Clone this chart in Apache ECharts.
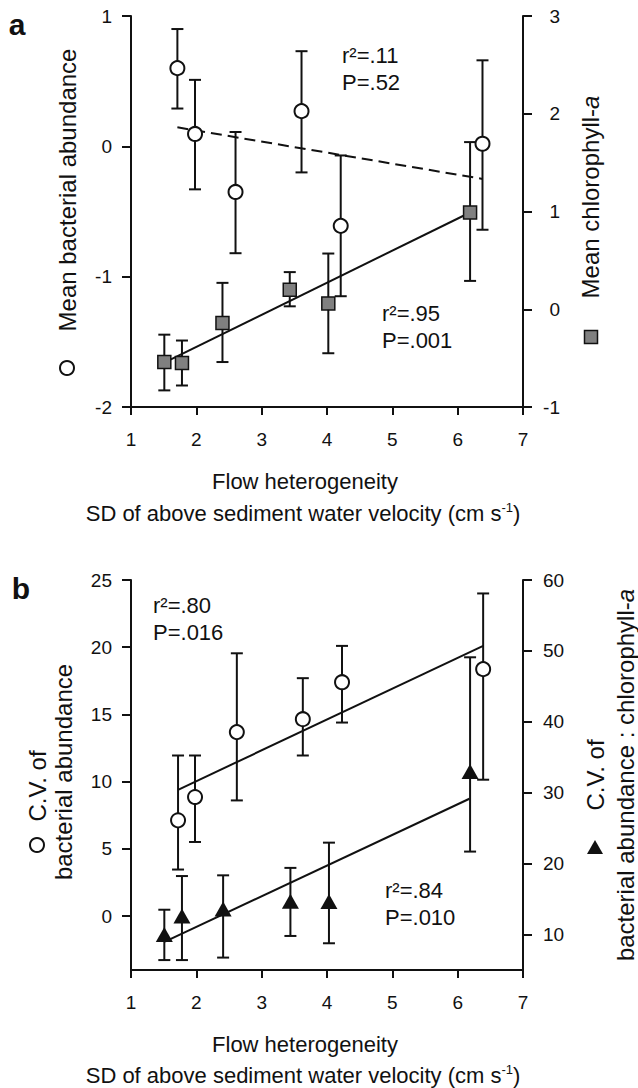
<!DOCTYPE html>
<html>
<head>
<meta charset="utf-8">
<script src="https://cdn.jsdelivr.net/npm/echarts@6/dist/echarts.min.js"></script>
<style>
  html, body { margin: 0; padding: 0; background: #fff; }
  #chart { width: 638px; height: 1088px; }
</style>
</head>
<body>
<div id="chart"></div>
<script>
// panel a - mean bacterial abundance (circles, left axis)
var flowBact = [1.71, 1.98, 2.60, 3.61, 4.21, 6.38]
var bactMean = [0.60, 0.095, -0.35, 0.27, -0.61, 0.02]
var bactLo = [0.29, -0.33, -0.82, -0.20, -1.15, -0.64]
var bactHi = [0.90, 0.51, 0.11, 0.73, -0.07, 0.66]
var bactFit = [[1.71, 0.146], [6.38, -0.25]]

// panel a - mean chlorophyll-a (squares, right axis)
var flowChl = [1.51, 1.78, 2.40, 3.43, 4.02, 6.19]
var chlMean = [-0.54, -0.55, -0.14, 0.20, 0.06, 0.99]
var chlLo = [-0.83, -0.78, -0.54, 0.03, -0.45, 0.29]
var chlHi = [-0.26, -0.32, 0.27, 0.38, 0.57, 1.71]
var chlFit = [[1.51, -0.545], [6.19, 0.99]]

// panel b - C.V. of bacterial abundance (circles, left axis)
var flowCvB = [1.72, 1.98, 2.62, 3.63, 4.23, 6.39]
var cvBact = [7.13, 8.86, 13.69, 14.65, 17.4, 18.37]
var cvBactLo = [3.47, 5.52, 8.61, 11.95, 14.4, 10.15]
var cvBactHi = [11.95, 11.95, 19.55, 17.7, 20.1, 24.0]
var cvBactFit = [[1.72, 9.4], [6.39, 20.1]]

// panel b - C.V. of bacterial abundance : chlorophyll-a (triangles, right axis)
var flowCvR = [1.51, 1.78, 2.41, 3.44, 4.03, 6.19]
var cvRatio = [10.0, 12.6, 13.6, 14.7, 14.65, 33.0]
var cvRatioLo = [6.4, 6.4, 6.75, 9.8, 8.77, 21.7]
var cvRatioHi = [13.5, 18.25, 18.35, 19.4, 22.96, 49.1]
var cvRatioFit = [[1.52, 9.0], [6.18, 29.15]]

// tick labels
var xTicks = [1, 2, 3, 4, 5, 6, 7]
var aLeftTicks = [-2, -1, 0, 1]
var aRightTicks = [-1, 0, 1, 2, 3]
var bLeftTicks = [0, 5, 10, 15, 20, 25]
var bRightTicks = [10, 20, 30, 40, 50, 60]

var FONT = '"Liberation Sans", Arial, "DejaVu Sans", sans-serif'
var INK = '#111'

function pairs(xs, ys) {
    return xs.map(function (x, i) { return [x, ys[i]] })
}
function bars(xs, lo, hi) {
    return xs.map(function (x, i) { return [x, lo[i], hi[i]] })
}

function errorBars(xi, yi, data) {
    return {
        type: 'custom',
        xAxisIndex: xi,
        yAxisIndex: yi,
        z: 2,
        data: data,
        encode: { x: 0, y: [1, 2] },
        renderItem: function (params, api) {
            var top = api.coord([api.value(0), api.value(2)])
            var bot = api.coord([api.value(0), api.value(1)])
            var w = 6
            var st = { stroke: INK, lineWidth: 2 }
            return {
                type: 'group',
                children: [
                    { type: 'line', shape: { x1: top[0], y1: top[1], x2: bot[0], y2: bot[1] }, style: st },
                    { type: 'line', shape: { x1: top[0] - w, y1: top[1], x2: top[0] + w, y2: top[1] }, style: st },
                    { type: 'line', shape: { x1: bot[0] - w, y1: bot[1], x2: bot[0] + w, y2: bot[1] }, style: st }
                ]
            }
        }
    }
}

function fitLine(xi, yi, data, dashed) {
    return {
        type: 'line',
        xAxisIndex: xi,
        yAxisIndex: yi,
        data: data,
        z: 3,
        symbol: 'none',
        silent: true,
        lineStyle: { color: INK, width: 2, type: dashed ? [11, 6] : 'solid' }
    }
}

function xAxisFor(gi) {
    return {
        type: 'value',
        gridIndex: gi,
        min: 1,
        max: 7,
        interval: 1,
        axisLine: { onZero: false, lineStyle: { color: INK, width: 2 } },
        axisTick: { length: 8, lineStyle: { color: INK, width: 2 }, customValues: xTicks },
        axisLabel: { customValues: xTicks, margin: 23, color: INK, fontSize: 19, fontFamily: FONT },
        splitLine: { show: false }
    }
}

function yAxisFor(gi, pos, min, max, ticks, labelOpts) {
    return {
        type: 'value',
        gridIndex: gi,
        position: pos,
        min: min,
        max: max,
        axisLine: { show: true, onZero: false, lineStyle: { color: INK, width: 2 } },
        axisTick: { show: true, length: 9, lineStyle: { color: INK, width: 2 }, customValues: ticks },
        axisLabel: Object.assign({ customValues: ticks, color: INK, fontSize: 19, fontFamily: FONT }, labelOpts),
        splitLine: { show: false }
    }
}

function txt(x, y, text, size, extra) {
    return {
        type: 'text',
        x: x,
        y: y,
        style: Object.assign({
            text: text,
            fill: INK,
            fontSize: size,
            fontFamily: FONT,
            align: 'center',
            verticalAlign: 'middle'
        }, extra || {})
    }
}

function vtxt(x, y, text, rich) {
    var el = txt(x, y, text, 24, rich ? { rich: rich } : null)
    el.rotation = Math.PI / 2
    return el
}

var italicA = { it: { fontStyle: 'italic', fontSize: 24, fontFamily: FONT, fill: INK } }
var supRich = {
    sup: { fontSize: 13, fontFamily: FONT, fill: INK, verticalAlign: 'top', lineHeight: 24 },
    n: { fontSize: 22, fontFamily: FONT, fill: INK, lineHeight: 24 }
}
var sdTitle = '{n|SD of above sediment water velocity (cm s}{sup|-1}{n|)}'

var chart = echarts.init(document.getElementById('chart'), null, { renderer: 'svg' })

chart.setOption({
    animation: false,
    backgroundColor: '#fff',
    grid: [
        { left: 131, top: 16, width: 392, height: 391 },
        { left: 131, top: 580, width: 392, height: 390 }
    ],
    xAxis: [xAxisFor(0), xAxisFor(1)],
    yAxis: [
        yAxisFor(0, 'left', -2, 1, aLeftTicks, { margin: 19 }),
        yAxisFor(0, 'right', -1, 3, aRightTicks, { margin: 37, align: 'right' }),
        yAxisFor(1, 'left', -4, 25, bLeftTicks, { margin: 19 }),
        yAxisFor(1, 'right', 5, 60, bRightTicks, { margin: 20 })
    ],
    series: [
        // panel a
        errorBars(0, 0, bars(flowBact, bactLo, bactHi)),
        errorBars(0, 1, bars(flowChl, chlLo, chlHi)),
        fitLine(0, 0, bactFit, true),
        fitLine(0, 1, chlFit, false),
        {
            type: 'scatter', xAxisIndex: 0, yAxisIndex: 0, z: 4,
            data: pairs(flowBact, bactMean),
            symbol: 'circle', symbolSize: 14,
            itemStyle: { color: '#fff', borderColor: INK, borderWidth: 2, opacity: 1 }
        },
        {
            type: 'scatter', xAxisIndex: 0, yAxisIndex: 1, z: 4,
            data: pairs(flowChl, chlMean),
            symbol: 'rect', symbolSize: 13,
            itemStyle: { color: '#808080', borderColor: INK, borderWidth: 1.5, opacity: 1 }
        },
        // panel b
        errorBars(1, 2, bars(flowCvB, cvBactLo, cvBactHi)),
        errorBars(1, 3, bars(flowCvR, cvRatioLo, cvRatioHi)),
        fitLine(1, 2, cvBactFit, false),
        fitLine(1, 3, cvRatioFit, false),
        {
            type: 'scatter', xAxisIndex: 1, yAxisIndex: 2, z: 4,
            data: pairs(flowCvB, cvBact),
            symbol: 'circle', symbolSize: 14,
            itemStyle: { color: '#fff', borderColor: INK, borderWidth: 2, opacity: 1 }
        },
        {
            type: 'scatter', xAxisIndex: 1, yAxisIndex: 3, z: 4,
            data: pairs(flowCvR, cvRatio),
            symbol: 'triangle', symbolSize: [17, 15],
            itemStyle: { color: INK, opacity: 1 }
        }
    ],
    graphic: [
        // panel letters
        txt(17, 24, 'a', 30, { fontWeight: 'bold' }),
        txt(21, 588, 'b', 30, { fontWeight: 'bold' }),

        // panel a stats
        txt(342, 55, 'r\u00b2=.11', 22, { align: 'left' }),
        txt(342, 82, 'P=.52', 22, { align: 'left' }),
        txt(382, 313, 'r\u00b2=.95', 22, { align: 'left' }),
        txt(382, 340, 'P=.001', 22, { align: 'left' }),

        // panel b stats
        txt(153, 605, 'r\u00b2=.80', 22, { align: 'left' }),
        txt(153, 632, 'P=.016', 22, { align: 'left' }),
        txt(385, 890, 'r\u00b2=.84', 22, { align: 'left' }),
        txt(385, 917, 'P=.010', 22, { align: 'left' }),

        // panel a axis titles
        vtxt(67, 190, 'Mean bacterial abundance'),
        { type: 'circle', shape: { cx: 67, cy: 368, r: 7 }, style: { fill: '#fff', stroke: INK, lineWidth: 2 } },
        vtxt(590, 197, 'Mean chlorophyll-{it|a}', italicA),
        { type: 'rect', shape: { x: 584.5, y: 330.5, width: 13, height: 13 }, style: { fill: '#808080', stroke: INK, lineWidth: 1.5 } },
        txt(305, 481, 'Flow heterogeneity', 22),
        txt(303, 513, sdTitle, 22, { rich: supRich }),

        // panel b axis titles
        vtxt(37, 786, 'C.V. of'),
        { type: 'circle', shape: { cx: 37, cy: 845, r: 7 }, style: { fill: '#fff', stroke: INK, lineWidth: 2 } },
        vtxt(63, 772, 'bacterial abundance'),
        vtxt(595, 775, 'C.V. of'),
        { type: 'polygon', shape: { points: [[595, 840], [587, 854], [603, 854]] }, style: { fill: INK } },
        vtxt(625, 775, 'bacterial abundance : chlorophyll-{it|a}', italicA),
        txt(305, 1044, 'Flow heterogeneity', 22),
        txt(303, 1075, sdTitle, 22, { rich: supRich })
    ]
})
</script>
</body>
</html>
